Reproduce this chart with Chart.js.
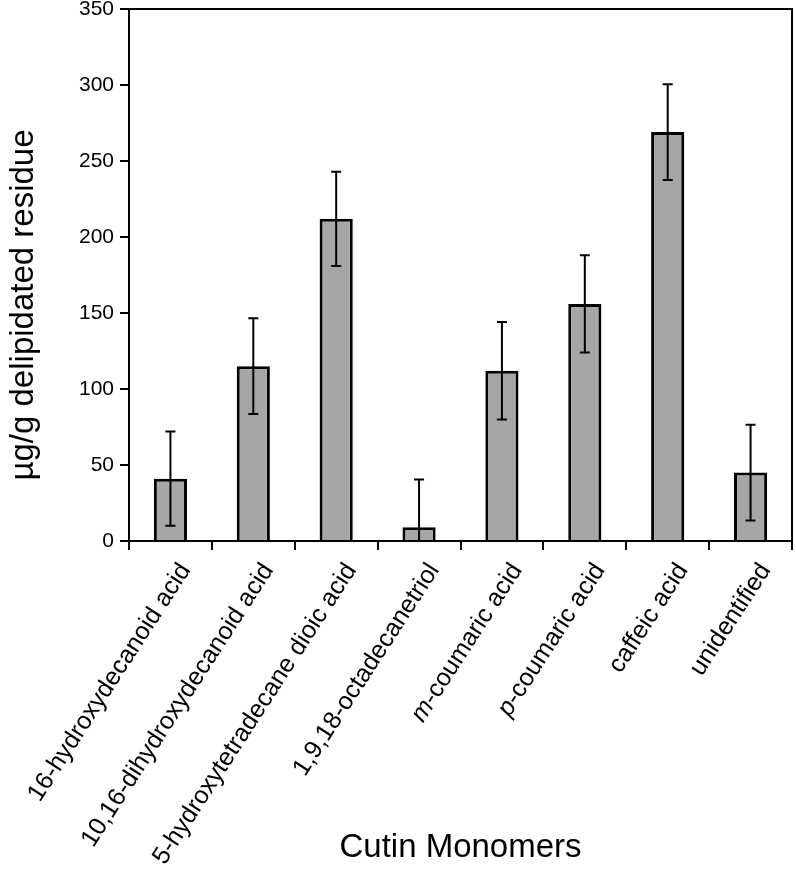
<!DOCTYPE html>
<html>
<head>
<meta charset="utf-8">
<script src="https://cdn.jsdelivr.net/npm/chart.js@4"></script>
<style>
  html, body { margin: 0; padding: 0; background: #fff; }
  #wrap { width: 796px; height: 873px; }
</style>
</head>
<body>
<div id="wrap"><canvas id="cutinChart" width="796" height="873"></canvas></div>
<script>
// data
const monomers = [
  "16-hydroxydecanoid acid",
  "10,16-dihydroxydecanoid acid",
  "5-hydroxytetradecane dioic acid",
  "1,9,18-octadecanetriol",
  "m-coumaric acid",
  "p-coumaric acid",
  "caffeic acid",
  "unidentified",
];
// prefix drawn in italics ("m-", "p-")
const italicPrefix = ["", "", "", "", "m", "p", "", ""];
const amounts = [41, 115, 212, 9, 112, 156, 269, 45];
const errors = [31, 31.5, 31, 31.5, 32, 32, 31.5, 31.5];
const yTicks = [0, 50, 100, 150, 200, 250, 300, 350];
const yTitle = "µg/g delipidated residue";

const FONT = "'Liberation Sans', Arial, sans-serif";

// top and right edges of the frame
const frameBox = {
  id: "frameBox",
  afterDraw(chart) {
    const { ctx, chartArea } = chart;
    ctx.save();
    ctx.strokeStyle = "#000";
    ctx.lineWidth = 2;
    ctx.beginPath();
    ctx.moveTo(chartArea.left, chartArea.top);
    ctx.lineTo(chartArea.right, chartArea.top);
    ctx.lineTo(chartArea.right, chartArea.bottom);
    ctx.stroke();
    ctx.restore();
  },
};

// error bars from the y scale (lower part clipped at the axis)
const errorBars = {
  id: "errorBars",
  afterDatasetsDraw(chart) {
    const { ctx, chartArea } = chart;
    const yScale = chart.scales.y;
    const bars = chart.getDatasetMeta(0).data;
    ctx.save();
    ctx.strokeStyle = "#000";
    ctx.lineWidth = 2;
    bars.forEach((bar, i) => {
      const low = amounts[i] - errors[i];
      const top = yScale.getPixelForValue(amounts[i] + errors[i]);
      const bottom = low >= 0 ? yScale.getPixelForValue(low) : chartArea.bottom;
      const x = bar.x;
      ctx.beginPath();
      ctx.moveTo(x, top);
      ctx.lineTo(x, bottom);
      ctx.moveTo(x - 5, top);
      ctx.lineTo(x + 5, top);
      if (low >= 0) {
        ctx.moveTo(x - 5, bottom);
        ctx.lineTo(x + 5, bottom);
      }
      ctx.stroke();
    });
    ctx.restore();
  },
};

// rotated category labels (with italic prefixes) and the y title
const axisText = {
  id: "axisText",
  afterDraw(chart) {
    const { ctx } = chart;
    const xScale = chart.scales.x;
    const angle = (57 * Math.PI) / 180;
    ctx.save();
    ctx.fillStyle = "#000";
    ctx.textBaseline = "middle";
    ctx.textAlign = "right";
    monomers.forEach((label, i) => {
      const x = xScale.getPixelForValue(i) + 15;
      const y = xScale.top + 25;
      ctx.save();
      ctx.translate(x, y);
      ctx.rotate(-angle);
      const pre = italicPrefix[i];
      const rest = pre ? label.slice(pre.length) : label;
      ctx.font = "25px " + FONT;
      ctx.fillText(rest, 0, 0);
      if (pre) {
        const w = ctx.measureText(rest).width;
        ctx.font = "italic 25px " + FONT;
        ctx.fillText(pre, -w, 0);
      }
      ctx.restore();
    });

    // y axis title, sitting a little below the plot's middle like the original
    ctx.save();
    ctx.translate(33, 305);
    ctx.rotate(-Math.PI / 2);
    ctx.textAlign = "center";
    ctx.textBaseline = "alphabetic";
    ctx.font = "33px " + FONT;
    ctx.fillText(yTitle, 0, 0);
    ctx.restore();
    ctx.restore();
  },
};

new Chart(document.getElementById("cutinChart"), {
  type: "bar",
  data: {
    labels: monomers,
    datasets: [
      {
        label: "Cutin monomers",
        data: amounts,
        backgroundColor: "#a6a6a6",
        borderColor: "#000",
        borderWidth: 3,
        barPercentage: 0.4,
        categoryPercentage: 1,
      },
    ],
  },
  options: {
    responsive: false,
    animation: false,
    layout: { padding: { top: 9, right: 4, left: 0, bottom: 0 } },
    plugins: {
      legend: { display: false },
      tooltip: { enabled: false },
    },
    scales: {
      x: {
        grid: {
          offset: true,
          drawOnChartArea: false,
          drawTicks: true,
          tickLength: 9,
          color: "#000",
          lineWidth: 2,
        },
        border: { color: "#000", width: 2 },
        ticks: { display: false, autoSkip: false },
        title: {
          display: true,
          text: "Cutin Monomers",
          color: "#000",
          font: { family: FONT, size: 33 },
          padding: { top: 0, bottom: 5 },
        },
        afterFit(scale) {
          scale.height = 873 - 541;
        },
      },
      y: {
        min: 0,
        max: 350,
        afterBuildTicks(scale) {
          scale.ticks = yTicks.map((v) => ({ value: v }));
        },
        grid: {
          drawOnChartArea: false,
          drawTicks: true,
          tickLength: 9,
          color: "#000",
          lineWidth: 2,
        },
        border: { color: "#000", width: 2 },
        ticks: {
          color: "#000",
          padding: 6,
          font: { family: FONT, size: 21 },
        },
        title: { display: false },
        afterFit(scale) {
          scale.width = 129;
          scale.paddingTop = 0;
          scale.paddingBottom = 0;
        },
      },
    },
  },
  plugins: [frameBox, errorBars, axisText],
});
</script>
</body>
</html>
